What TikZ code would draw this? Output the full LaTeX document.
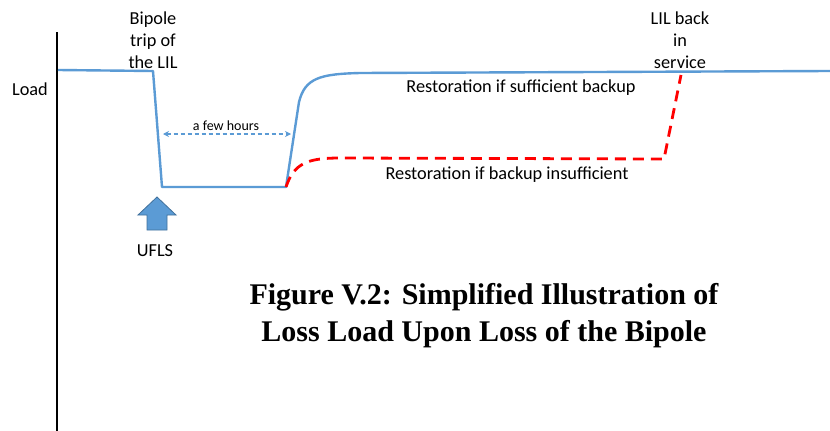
\documentclass[tikz,border=0pt]{standalone}
\usepackage{fontspec}
\setmainfont{Carlito}
\newfontfamily\capfont{Liberation Serif}
\usetikzlibrary{arrows.meta}
\definecolor{loadblue}{RGB}{91,155,213}
\definecolor{arrowedge}{RGB}{65,113,156}
\definecolor{backupred}{RGB}{255,0,0}
\begin{document}
\begin{tikzpicture}[x=1pt,y=-1pt,
  lbl/.style={font=\fontsize{18.3}{22}\selectfont, align=center, inner sep=0pt},
  smalllbl/.style={font=\fontsize{14}{16}\selectfont, inner sep=0pt},
  axisline/.style={draw=black, line width=2.6pt},
  loadline/.style={draw=loadblue, line width=2.4pt, line join=round},
  backupline/.style={draw=backupred, line width=2.8pt, dash pattern=on 11pt off 7pt},
  spanarrow/.style={draw=loadblue, line width=1.3pt, dash pattern=on 4pt off 3pt,
    {Stealth[length=6pt,width=6pt]}-{Stealth[length=6pt,width=6pt]}},
  blockarrow/.style={fill=loadblue, draw=arrowedge, line width=0.8pt, line join=miter},
  caption/.style={font=\capfont\bfseries\fontsize{30}{37}\selectfont, align=center, inner sep=0pt}]
\useasboundingbox (0,0) rectangle (830,431);
\fill[white] (0,0) rectangle (830,431);

% vertical load axis
\coordinate (axtop) at (57,32);
\coordinate (axbot) at (57,431);
\draw[axisline] (axtop) -- (axbot);

% key points of the load curve
\coordinate (start) at (58,70);
\coordinate (trip)  at (153,71);
\coordinate (low1)  at (162,187);
\coordinate (low2)  at (286,187);
\coordinate (rise)  at (299,102);
\coordinate (flat)  at (360,73);
\coordinate (end)   at (830,71);
\coordinate (red1)  at (340,158);
\coordinate (red2)  at (664,159);
\coordinate (red3)  at (681,75);

% restoration with sufficient backup
\draw[loadline] (start) -- (trip) -- (low1) -- (low2) -- (rise)
  .. controls (305,78) and (320,74) .. (flat) -- (end);

% restoration with insufficient backup
\draw[backupline] (low2) .. controls (294,163) and (308,158) .. (red1) -- (red2) -- (red3);

% duration marker
\coordinate (spanL) at (163,134);
\coordinate (spanR) at (291,134);
\draw[spanarrow] (spanL) -- (spanR);
\node[smalllbl] (hours) at (226,126) {a few hours};

% UFLS block arrow
\draw[blockarrow] (147,230) -- (147,215) -- (138,215) -- (157,197) -- (176,215)
  -- (167,215) -- (167,230) -- cycle;

% labels
\node[lbl] (load) at (30,89) {Load};
\node[lbl] (bipole) at (153,40) {Bipole\\trip of\\the LIL};
\node[lbl] (lilback) at (680,40) {LIL back\\in\\service};
\node[lbl] (suff) at (521,88) {Restoration if sufficient backup};
\node[lbl] (insuff) at (507,175) {Restoration if backup insufficient};
\node[lbl] (ufls) at (155,251) {UFLS};

% caption
\node[caption] (cap) at (484,316) {Figure V.2: Simplified Illustration of\\Loss Load Upon Loss of the Bipole};
\end{tikzpicture}
\end{document}
